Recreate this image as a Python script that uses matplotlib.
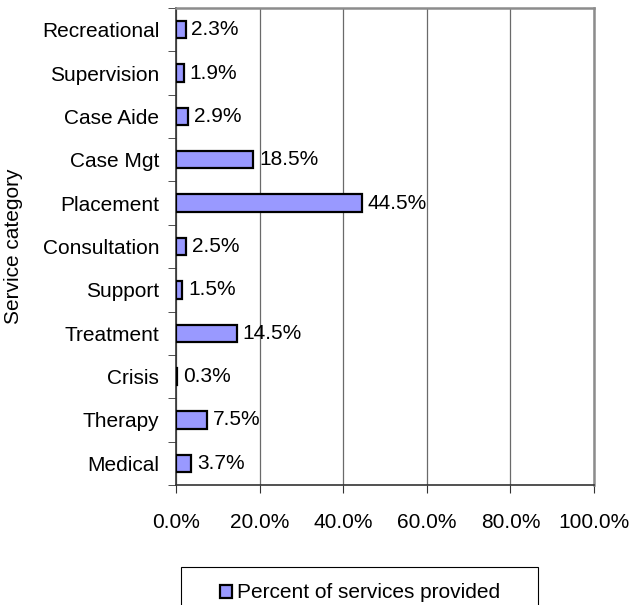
import numpy as np
import matplotlib
matplotlib.use("Agg")
import matplotlib.pyplot as plt
from matplotlib.patches import Patch, Rectangle

plt.rcParams['font.family'] = ['Liberation Sans', 'DejaVu Sans']

categories = ['Medical', 'Therapy', 'Crisis', 'Treatment', 'Support', 'Consultation',
              'Placement', 'Case Mgt', 'Case Aide', 'Supervision', 'Recreational']
percent = [3.7, 7.5, 0.3, 14.5, 1.5, 2.5, 44.5, 18.5, 2.9, 1.9, 2.3]
x_ticks = [0, 20, 40, 60, 80, 100]

fs = 15
W, H = 631, 605
fig = plt.figure(figsize=(W/100, H/100), dpi=100)
ax = fig.add_axes([176/W, 1-485/H, 418/W, 477/H])

y = np.arange(len(categories))
ax.barh(y, percent, height=0.4, color='#9999FF', edgecolor='black', linewidth=1.6, zorder=3)

# value labels next to each bar
for yi, v in zip(y, percent):
    ax.text(v + 1.4, yi, '{:.1f}%'.format(v), va='center', ha='left', fontsize=fs, zorder=4)

ax.set_xlim(0, 100)
ax.set_ylim(-0.5, len(categories) - 0.5)
ax.set_xticks(x_ticks)
ax.set_xticklabels(['{:.1f}%'.format(t) for t in x_ticks], fontsize=fs)
ax.tick_params(axis='x', length=6, pad=14, color='#333333')

# category labels centred, ticks at the boundaries
ax.set_yticks(y)
ax.set_yticklabels(categories, fontsize=fs)
ax.set_yticks(np.arange(-0.5, len(categories)), minor=True)
ax.tick_params(axis='y', which='major', length=0, pad=12)
ax.tick_params(axis='y', which='minor', length=6, color='#333333')

ax.set_ylabel('Service category', fontsize=fs)
ax.yaxis.set_label_coords(-153/418, 0.5)

ax.grid(axis='x', color='#6a6a6a', linewidth=0.9, zorder=0)
for side in ['top', 'right']:
    ax.spines[side].set_color('#8c8c8c')
    ax.spines[side].set_linewidth(1.8)
for side in ['left', 'bottom']:
    ax.spines[side].set_color('#333333')
    ax.spines[side].set_linewidth(1.2)

# legend box runs off the bottom edge
fig.patches.append(Rectangle((181/W, -20/H), 357/W, (H - 567 + 20)/H, transform=fig.transFigure,
                             facecolor='white', edgecolor='black', linewidth=0.8))
handle = Patch(facecolor='#9999FF', edgecolor='black', linewidth=1.6)
leg = fig.legend([handle], ['Percent of services provided'], loc='center',
                 bbox_to_anchor=(360/W, 1-593/H), fontsize=fs, frameon=False,
                 handlelength=0.6, handleheight=0.6, handletextpad=0.25, borderpad=0,
                 borderaxespad=0)

fig.savefig('out.png', dpi=100)
